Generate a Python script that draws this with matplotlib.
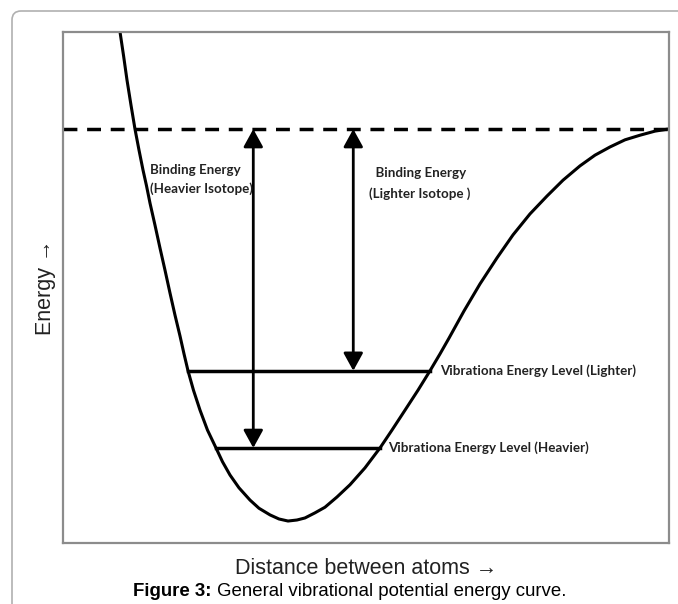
import matplotlib
matplotlib.use('Agg')
import matplotlib.pyplot as plt
import matplotlib.patches as mpatches
from matplotlib.transforms import IdentityTransform

# potential energy curve (arbitrary units, box is 0..10 x 0..10)
Distance = [0.941, 1.0, 1.056, 1.122, 1.188, 1.254, 1.320, 1.378, 1.436, 1.518, 1.601,
            1.683, 1.766, 1.848, 1.931, 1.997, 2.063, 2.153, 2.261, 2.384, 2.525, 2.632,
            2.756, 2.904, 3.086, 3.234, 3.416, 3.564, 3.713, 3.861, 3.993, 4.158, 4.323,
            4.521, 4.736, 4.983, 5.231, 5.429, 5.644, 5.858, 6.056, 6.221, 6.370, 6.617,
            6.881, 7.162, 7.426, 7.706, 7.987, 8.251, 8.531, 8.779, 9.026, 9.274, 9.521,
            9.769, 9.983]
Energy = [10.0, 9.53, 9.06, 8.57, 8.10, 7.69, 7.30, 6.99, 6.65, 6.22, 5.77,
          5.34, 4.89, 4.46, 4.05, 3.70, 3.37, 2.99, 2.60, 2.21, 1.86, 1.59,
          1.33, 1.08, 0.84, 0.68, 0.55, 0.47, 0.43, 0.45, 0.49, 0.59, 0.70,
          0.90, 1.14, 1.47, 1.86, 2.21, 2.60, 2.99, 3.37, 3.70, 4.01, 4.54,
          5.07, 5.58, 6.03, 6.44, 6.79, 7.10, 7.38, 7.59, 7.75, 7.89, 7.98,
          8.06, 8.10]

Dissociation = 8.10
# vibrational levels: (energy, left end, right end)
LevelLight = [3.37, 2.06, 6.06]
LevelHeavy = [1.86, 2.52, 5.23]
ArrowHeavyX = 3.14
ArrowLightX = 4.79

fig = plt.figure(figsize=(6.78, 6.04), dpi=100)

# outer page frame
frame = mpatches.FancyBboxPatch((12, -30), 720, 604 - 11 + 30,
                                boxstyle="round,pad=0,rounding_size=9",
                                transform=IdentityTransform(), fill=False,
                                edgecolor='#b0b0b0', lw=1.2)
fig.patches.append(frame)

ax = fig.add_axes([63/678, 61/604, 606/678, 511/604])
ax.set_xlim(0, 10)
ax.set_ylim(0, 10)
ax.set_xticks([])
ax.set_yticks([])
for s in ax.spines.values():
    s.set_color('#8c8c8c')
    s.set_linewidth(1.6)

ax.plot(Distance, Energy, color='black', lw=2.2, solid_joinstyle='round', solid_capstyle='round')
ax.axhline(Dissociation, color='black', lw=2.5, ls=(0, (4, 2.8)))

ax.plot([LevelLight[1], LevelLight[2]], [LevelLight[0], LevelLight[0]], color='black', lw=2.5)
ax.plot([LevelHeavy[1], LevelHeavy[2]], [LevelHeavy[0], LevelHeavy[0]], color='black', lw=2.5)

arrow = dict(arrowstyle='<|-|>,head_length=0.4,head_width=0.22', lw=2, color='black',
             mutation_scale=27, shrinkA=0, shrinkB=0)
ax.annotate('', xy=(ArrowHeavyX, Dissociation), xytext=(ArrowHeavyX, LevelHeavy[0]), arrowprops=arrow)
ax.annotate('', xy=(ArrowLightX, Dissociation), xytext=(ArrowLightX, LevelLight[0]), arrowprops=arrow)

lab = dict(fontsize=9.6, fontweight='bold', family=['Lato', 'DejaVu Sans'], color='#222222')
ax.text(1.44, 7.12, 'Binding Energy\n(Heavier Isotope)', va='center', ha='left', linespacing=1.6, **lab)
ax.text(5.05, 7.04, '  Binding Energy\n(Lighter Isotope )', va='center', ha='left', linespacing=1.75, **lab)
ax.text(6.22, LevelLight[0], 'Vibrationa Energy Level (Lighter)', va='center', ha='left', **lab)
ax.text(5.36, LevelHeavy[0], 'Vibrationa Energy Level (Heavier)', va='center', ha='left', **lab)

af = ['Liberation Sans', 'DejaVu Sans']
ax.set_xlabel('Distance between atoms \u2192', fontsize=15.5, family=af, color='#222222', labelpad=11)
ax.set_ylabel('Energy \u2192', fontsize=15.5, family=af, color='#222222', labelpad=5)

t1 = fig.text(133/678, 1 - 591/604, 'Figure 3:', fontsize=13.4, fontweight='bold', family=af,
              va='center', ha='left')
ax.annotate(' General vibrational potential energy curve.', xy=(1, 0.5), xycoords=t1,
            va='center', ha='left', fontsize=13.4, family=af)

fig.savefig('out.png', dpi=100)
